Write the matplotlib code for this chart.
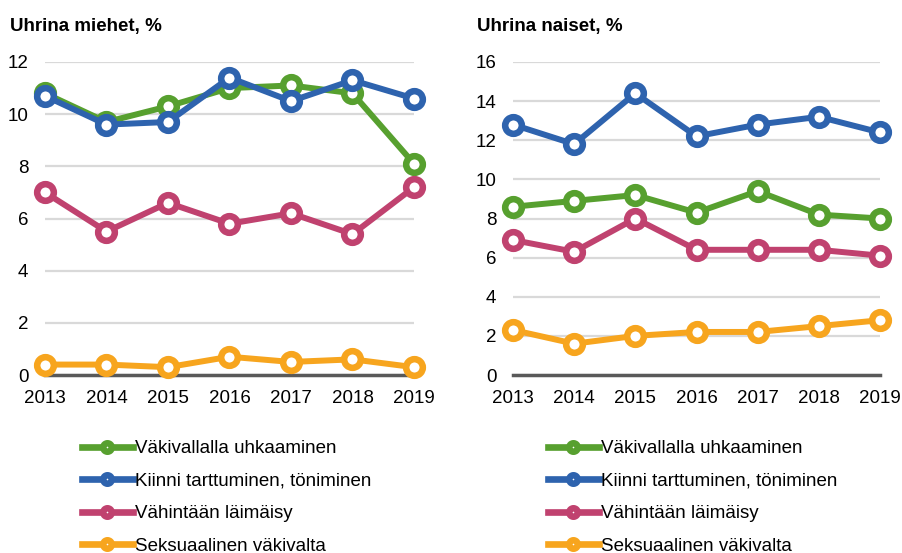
import matplotlib.pyplot as plt
from matplotlib.lines import Line2D

plt.rcParams['font.family'] = ['Liberation Sans', 'DejaVu Sans']

years = [2013, 2014, 2015, 2016, 2017, 2018, 2019]

labels = ['Väkivallalla uhkaaminen',
          'Kiinni tarttuminen, töniminen',
          'Vähintään läimäisy',
          'Seksuaalinen väkivalta']
colors = ['#57A02F', '#2E63AE', '#C0426F', '#F7A51E']

# miehet
men_threat = [10.8, 9.7, 10.3, 11.0, 11.1, 10.8, 8.1]
men_grab = [10.7, 9.6, 9.7, 11.4, 10.5, 11.3, 10.6]
men_slap = [7.0, 5.5, 6.6, 5.8, 6.2, 5.4, 7.2]
men_sexual = [0.4, 0.4, 0.3, 0.7, 0.5, 0.6, 0.3]

# naiset
women_threat = [8.6, 8.9, 9.2, 8.3, 9.4, 8.2, 8.0]
women_grab = [12.8, 11.8, 14.4, 12.2, 12.8, 13.2, 12.4]
women_slap = [6.9, 6.3, 8.0, 6.4, 6.4, 6.4, 6.1]
women_sexual = [2.3, 1.6, 2.0, 2.2, 2.2, 2.5, 2.8]

W, H = 903, 553
fig = plt.figure(figsize=(W / 100, H / 100), dpi=100)


def draw(ax, series, ymax, title, title_x):
    for i in [3, 2, 0, 1]:
        ax.plot(years, series[i], color=colors[i], lw=4.3, marker='o', ms=12,
                mew=4.7, mfc='white', mec=colors[i], clip_on=False, zorder=3 + i)
    ax.set_xlim(2013, 2019)
    ax.set_ylim(0, ymax)
    ax.set_yticks(range(0, ymax + 1, 2))
    ax.set_xticks(years)
    ax.grid(axis='y', color='#D9D9D9', lw=1.6)
    ax.set_axisbelow(True)
    for s in ['top', 'right', 'left']:
        ax.spines[s].set_visible(False)
    ax.spines['bottom'].set_color('#595959')
    ax.spines['bottom'].set_linewidth(2.5)
    ax.tick_params(length=0, labelsize=13.5, colors='black')
    ax.tick_params(axis='y', pad=12)
    ax.tick_params(axis='x', pad=11)
    fig.text(title_x / W, 1 - 26 / H, title, fontsize=13.5, fontweight='bold',
             va='center', ha='left')


ax1 = fig.add_axes([45 / W, 1 - 375 / H, 369 / W, 313 / H])
draw(ax1, [men_threat, men_grab, men_slap, men_sexual], 12, 'Uhrina miehet, %', 10)

ax2 = fig.add_axes([513 / W, 1 - 375 / H, 367 / W, 313 / H])
draw(ax2, [women_threat, women_grab, women_slap, women_sexual], 16, 'Uhrina naiset, %', 477)

handles = [Line2D([], [], color=c, lw=4.8, marker='o', ms=6.1, mew=4.7, mfc='white', mec=c)
           for c in colors]
for x in [82, 548]:
    fig.legend(handles, labels, loc='upper left', bbox_to_anchor=(x / W, 1 - 440 / H),
               frameon=False, fontsize=13.5, handlelength=2.7, handletextpad=0.15,
               labelspacing=0.82, borderpad=0, borderaxespad=0)

fig.savefig('out.png', dpi=100)
